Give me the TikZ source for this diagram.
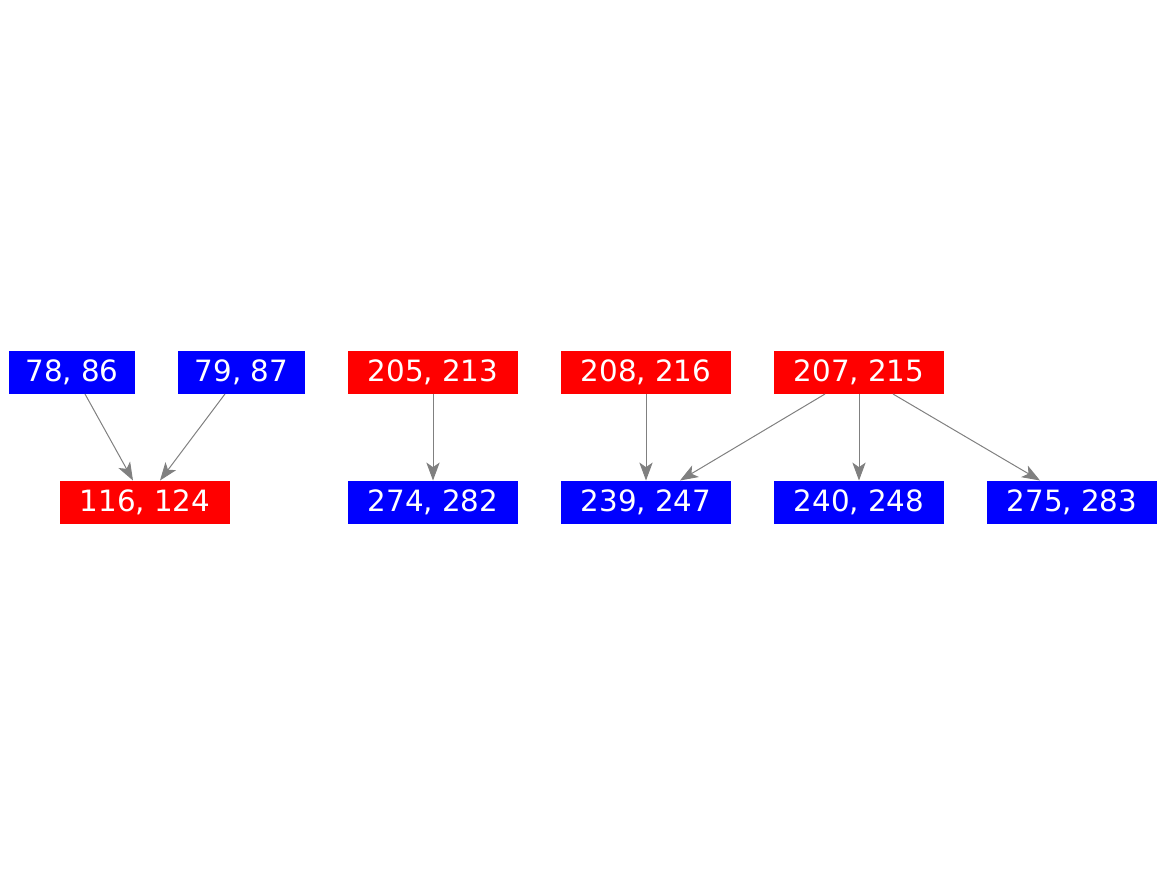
\documentclass[tikz,border=0pt]{standalone}
\usepackage{fontspec}
\setmainfont{DejaVu Sans}
\usetikzlibrary{arrows.meta}

\tikzset{every picture/.style={line width=0.75pt}}
\tikzset{
  redbox/.style={fill={rgb,255:red,255;green,0;blue,0}, text=white, inner sep=0pt, minimum height=32.25pt, minimum width=127.5pt, font=\fontsize{22}{26}\selectfont},
  bluebox/.style={redbox, fill={rgb,255:red,0;green,0;blue,255}},
  smallbox/.style={minimum width=95pt},
  edge/.style={draw={rgb,255:red,128;green,128;blue,128}, line width=0.75pt, -{Stealth[length=13.5pt,width=10pt,inset=3.5pt]}}
}

\begin{document}
\begin{tikzpicture}[x=0.75pt,y=0.75pt,yscale=-1,xscale=1]
\useasboundingbox (0,0) rectangle (1167,875);

% Upper row
\node [bluebox,smallbox] (n7886) at (72,372) {78, 86};
\node [bluebox,smallbox] (n7987) at (241.5,372) {79, 87};
\node [redbox] (n205213) at (433,372) {205, 213};
\node [redbox] (n208216) at (646,372) {208, 216};
\node [redbox] (n207215) at (859,372) {207, 215};

% Lower row
\node [redbox] (n116124) at (145,502.5) {116, 124};
\node [bluebox] (n274282) at (433,502.5) {274, 282};
\node [bluebox] (n239247) at (646,502.5) {239, 247};
\node [bluebox] (n240248) at (859,502.5) {240, 248};
\node [bluebox] (n275283) at (1072,502.5) {275, 283};

% Edges
\draw [edge] ([xshift=9.75pt]n7886.south) -- ([xshift=-9pt]n116124.north);
\draw [edge] ([xshift=-12.4pt]n7987.south) -- ([xshift=11.25pt]n116124.north);
\draw [edge] (n205213) -- (n274282);
\draw [edge] (n208216) -- (n239247);
\draw [edge] ([xshift=-25.5pt]n207215.south) -- ([xshift=25.5pt]n239247.north);
\draw [edge] (n207215) -- (n240248);
\draw [edge] ([xshift=25.5pt]n207215.south) -- ([xshift=-24pt]n275283.north);

\end{tikzpicture}
\end{document}
